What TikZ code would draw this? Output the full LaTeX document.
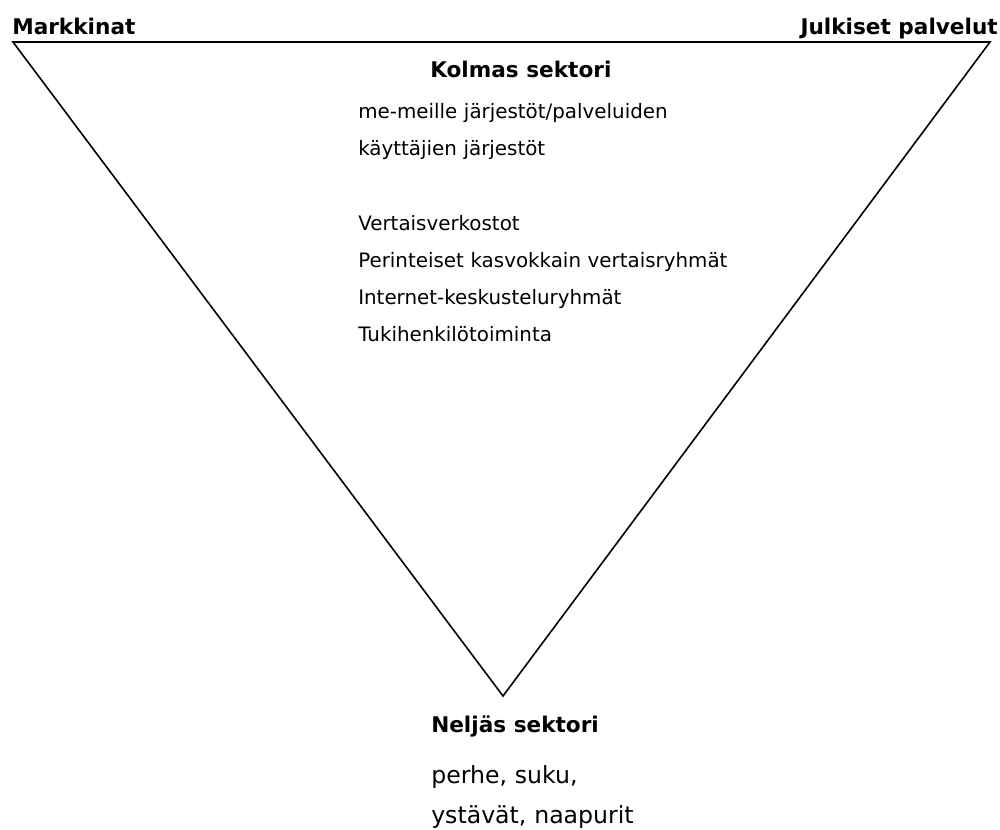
\documentclass[tikz,border=0pt]{standalone}
\usepackage{fontspec}
\setmainfont{DejaVu Sans}
\begin{document}
\begin{tikzpicture}[x=0.75pt, y=-0.75pt, node distance={27.75pt},
  head/.style = {font=\fontsize{16.2}{19}\selectfont\bfseries, inner sep=0pt},
  item/.style = {font=\fontsize{14.9}{18}\selectfont, inner sep=0pt, text width=300pt, align=left, text height=11pt, text depth=3pt},
  low/.style  = {font=\fontsize{17.7}{21}\selectfont, inner sep=0pt, text width=200pt, align=left, text height=13pt, text depth=3.5pt}]
\useasboundingbox (0,0) rectangle (1000,829);

% triangle
\coordinate (tl) at (13,42);
\coordinate (tr) at (990,42);
\coordinate (bt) at (503,696);
\draw[line width=1.2pt, line join=miter] (tl) -- (tr) -- (bt) -- cycle;

% corners
\node[head, anchor=base west] (mark) at (12,34) {Markkinat};
\node[head, anchor=base east] (julk) at (998,34) {Julkiset palvelut};

% kolmas sektori
\node[head, anchor=base west] (kol) at (430,77) {Kolmas sektori};
\node[item, anchor=base west] (l1) at (358,118) {me-meille järjestöt/palveluiden};
\node[item] (l2) [below of=l1] {käyttäjien järjestöt};
\node[item] (l3) [below of=l2][node distance={56.25pt}] {Vertaisverkostot};
\node[item] (l4) [below of=l3] {Perinteiset kasvokkain vertaisryhmät};
\node[item] (l5) [below of=l4] {Internet-keskusteluryhmät};
\node[item] (l6) [below of=l5] {Tukihenkilötoiminta};

% neljas sektori
\node[head, anchor=base west] (nel) at (431,732) {Neljäs sektori};
\node[low, anchor=base west] (m1) at (431,783) {perhe, suku,};
\node[low] (m2) [below of=m1][node distance={30.5pt}] {ystävät, naapurit};

\end{tikzpicture}
\end{document}
